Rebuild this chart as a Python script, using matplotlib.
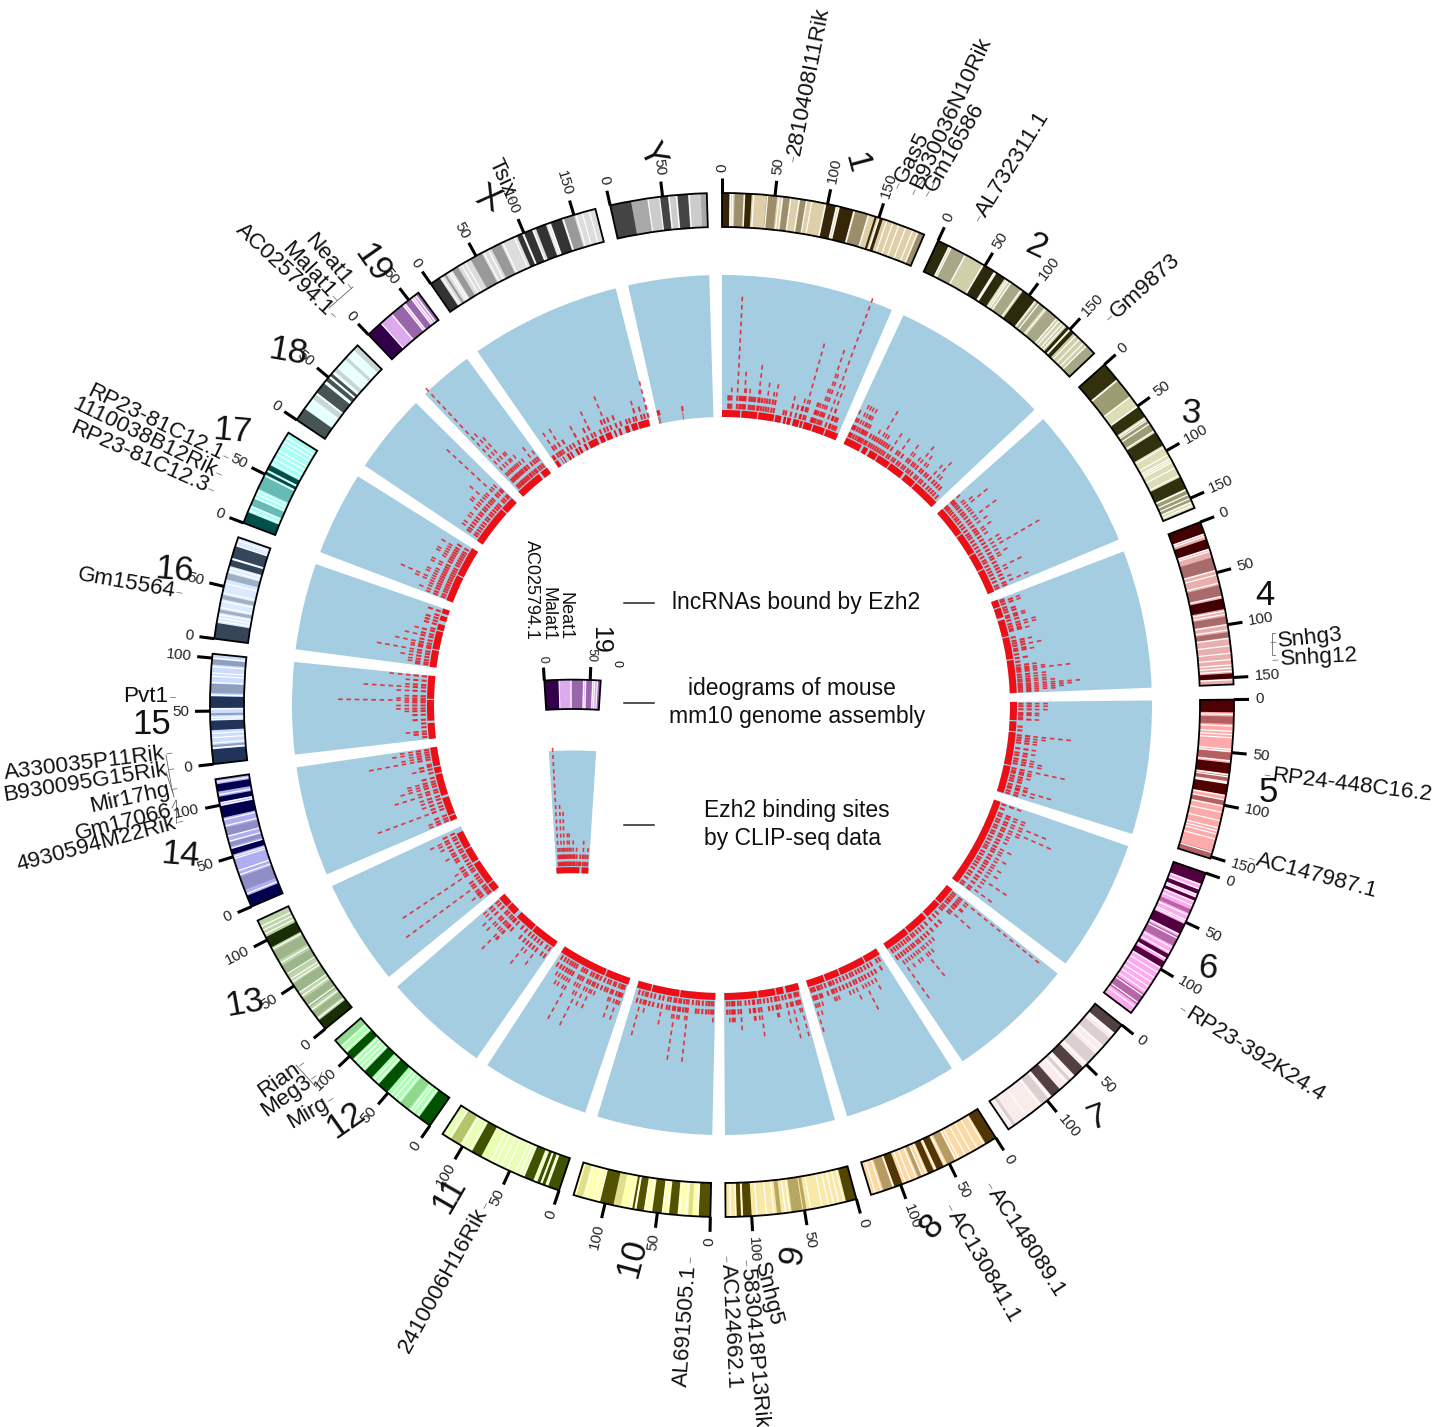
import numpy as np
import matplotlib
matplotlib.use('Agg')
import matplotlib.pyplot as plt

plt.rcParams['font.family'] = ['Liberation Sans', 'DejaVu Sans']

chrom_names = ['1','2','3','4','5','6','7','8','9','10','11','12','13','14','15','16','17','18','19','X','Y']
chrom_len = [195.47,182.11,160.04,156.51,151.83,149.74,145.44,129.40,124.60,130.69,122.08,120.13,120.42,124.90,104.04,98.21,94.99,90.70,61.43,171.03,91.74]

# dark / mid / light colour of each ideogram
chrom_dark = ['#35260a','#2b2a0c','#33300e','#420003','#4f0000','#52003f','#534040','#523504','#524500','#525200','#3e5200','#005200','#1a2e05','#00004f','#20345a','#36465a','#004f4a','#465454','#33004a','#333333','#444444']
chrom_mid = ['#9c8d6b','#a8a888','#9c9b72','#a96a6a','#b56060','#b864a8','#dccfcf','#b89a63','#b8a763','#dede8c','#b3c46b','#8fd98f','#9db58a','#8f8fc8','#8f9fc0','#a0b0c4','#66bbb5','#c5d8d6','#9966aa','#999999','#a8a8a8']
chrom_light = ['#decfa9','#cfcfa9','#ddddb6','#e9aeae','#ffaaaa','#ffaaf0','#fbecec','#fbd9a4','#f9e9a8','#ffffb0','#e8ffb5','#aaffb0','#bdd3a8','#aeaef0','#ccdcff','#dbeaff','#a6fff5','#e6ffff','#ddaaee','#dddddd','#cccccc']

chr1_dark = [(0,7),(22,28),(99,108),(112,125),(146,148),(151,154)]
chr1_mid = [(12,21),(42,52),(58,64),(74,80),(127,139),(190,195)]
chr1_white = [8,10,21,30,43,54,57,65,73,80,85,98,109,111,126,140,150,158,164,170,177,184,189]
chr2_dark = [(0,11),(49,60),(63,72),(93,107),(146,149),(151,155)]
chr2_mid = [(14,28),(80,90),(110,118),(122,133),(172,182)]
chr2_white = [12,14,29,48,61,62,74,76,79,91,108,112,120,134,137,141,144,150,158,163,168,172]
chr3_dark = [(0,18),(51,62),(80,94),(128,140)]
chr3_mid = [(20,38),(65,78),(142,153)]
chr3_white = [19,39,50,64,66,70,78,96,104,108,110,112,118,126,141,146,150,154,157]
chr4_dark = [(0,11),(17,26),(75,85),(146,151)]
chr4_mid = [(35,47),(62,72),(92,99),(107,112)]
chr4_white = [12,14,27,29,48,52,60,73,87,90,100,105,113,120,127,133,138,141,144,152]
chr5_dark = [(0,12),(60,70),(80,90)]
chr5_mid = [(16,23),(50,57),(72,77),(95,100),(145,151)]
chr5_white = [14,25,30,33,36,47,49,58,71,73,78,79,91,95,101,107,115,122,125,128,133,146]
chr6_dark = [(0,11),(17,21),(25,28),(52,62),(84,88),(92,98)]
chr6_mid = [(37,41),(65,75),(128,140)]
chr6_white = [12,16,22,24,29,33,43,48,50,63,67,77,82,89,99,104,110,115,120,125,130,138,143]
chr7_dark = [(0,10),(54,65),(84,94)]
chr7_mid = [(17,26),(37,48),(70,73),(98,106),(137,140)]
chr7_white = [11,13,27,33,50,67,69,75,96,108,124,141]
chr8_dark = [(0,11),(56,63),(66,72),(98,106)]
chr8_mid = [(44,52),(78,82),(108,117)]
chr8_white = [13,20,27,33,40,43,54,64,74,78,84,90,95,107,119,125]
chr9_dark = [(0,10),(100,108),(110,114)]
chr9_mid = [(48,51),(52,62),(72,76)]
chr9_white = [12,17,22,27,33,44,64,68,79,86,95,109,115,120]
chr10_dark = [(0,11),(31,39),(46,55),(63,70),(72,74),(92,105)]
chr10_mid = [(17,21),(85,92),(122,128)]
chr10_white = [12,23,29,41,45,57,62,71,76,106,112,120]
chr11_dark = [(0,11),(14,17),(19,22),(26,35),(80,90)]
chr11_mid = [(103,113)]
chr11_white = [12,18,24,36,40,44,53,59,65,70,92,101,114]
chr12_dark = [(0,13),(51,62),(71,80),(96,104)]
chr12_mid = [(25,35),(113,120)]
chr12_white = [15,20,23,37,42,46,64,68,82,86,90,94,106,112]
chr13_dark = [(0,10),(92,103)]
chr13_mid = [(14,20),(25,35),(42,52),(62,72),(78,88)]
chr13_white = [12,22,27,38,42,54,57,63,75,90,106,110,114]
chr14_dark = [(0,11),(52,58),(88,99),(103,108),(113,120)]
chr14_mid = [(17,30),(60,64),(70,78)]
chr14_white = [13,32,36,48,50,58,65,70,80,86,100,102,110,122]
chr15_dark = [(0,14),(32,41),(53,64)]
chr15_mid = [(16,18),(46,48),(67,76),(94,99)]
chr15_white = [15,20,25,29,42,44,52,65,77,83,86,92,100]
chr16_dark = [(0,15),(70,76),(78,90)]
chr16_mid = [(25,28),(38,42),(57,63)]
chr16_white = [17,20,23,30,36,44,53,65,68,77,90,95]
chr17_dark = [(0,11),(50,53),(55,60)]
chr17_mid = [(18,25),(35,48)]
chr17_white = [13,17,26,30,33,49,54,62,67,72,76,82,86,90]
chr18_dark = [(0,13),(32,43),(46,50),(52,55)]
chr18_mid = [(25,30),(58,62),(73,76),(85,90)]
chr18_white = [23,31,44,51,56,63,70,78,84]
chr19_dark = [(0,16)]
chr19_mid = [(30,42),(46,52),(58,61)]
chr19_white = [16,29,43,45,53,55,58]
chrX_dark = [(0,10),(93,98),(100,108),(112,122),(127,138)]
chrX_mid = [(15,17),(24,30),(44,56),(66,76),(140,150)]
chrX_white = [12,20,22,34,38,58,63,78,90,99,109,124,126,139,152,158,165]
chrY_dark = [(0,20),(47,55),(64,74)]
chrY_mid = [(20,36),(86,92)]
chrY_white = [36,47,56,63,75]

chr1_base = [(0,30),(32,58),(60,86),(88,98),(102,106),(108,114),(118,128),(130,134),(136,150),(152,172),(174,195)]
chr2_base = [(0,28),(32,40),(44,58),(60,82),(84,110),(114,134),(136,182)]
chr3_base = [(0,50),(52,88),(90,118),(120,160)]
chr4_base = [(0,12),(14,30),(34,62),(64,100),(102,156)]
chr5_base = [(0,30),(32,48),(50,104),(106,151)]
chr6_base = [(0,150)]
chr7_base = [(0,30),(32,60),(63,100),(102,145)]
chr8_base = [(0,26),(28,72),(74,98),(100,129)]
chr9_base = [(0,22),(26,38),(40,68),(70,124)]
chr10_base = [(0,58),(60,105),(107,130)]
chr11_base = [(0,40),(42,122)]
chr12_base = [(0,44),(46,78),(84,100),(102,120)]
chr13_base = [(0,14),(16,55),(58,82),(84,112)]
chr14_base = [(0,8),(10,40),(44,80),(82,92),(94,125)]
chr15_base = [(0,26),(30,64),(66,104)]
chr16_base = [(0,28),(30,60),(62,72),(78,86),(90,98)]
chr17_base = [(0,44),(46,95)]
chr18_base = [(0,65),(67,90)]
chr19_base = [(0,44),(48,61)]
chrX_base = [(1,7),(12,13),(16,18),(24,28),(30,33),(40,44),(46,50),(56,60),(64,80),(84,92),(95,105),(110,113),(118,122),(129,136),(140,150),(152,170)]
chrY_base = [(1,2),(3,4),(41,42)]

chr1_sites = [(10,2),(12,2),(15,3),(24,14),(28,2),(30,2),(33,2),(35,5),(37,3),(43,3),(46,2),(49,2),(52,2),(57,6),(59,3),(63,2),(67,2),(71,4),(75,2),(80,3),(84,4),(100,1),(104,1),(112,3),(120,2),(127,2),(128,3),(133,10),(136,3),(146,1),(148,3),(150,3),(153,3),(157,5),(160,10),(163,7),(171,17),(177,6),(178,3),(182,2),(185,2),(188,1)]
chr2_sites = [(2,4),(4,3),(6,3),(10,5),(14,5),(18,5),(20,4),(23,5),(26,3),(30,1),(33,2),(38,2),(42,3),(46,2),(50,6),(54,3),(58,3),(62,2),(66,2),(72,4),(76,1),(82,2),(86,4),(92,2),(96,1),(102,4),(106,3),(112,2),(116,3),(121,5),(128,4),(132,3),(138,2),(142,2),(148,4),(155,5),(160,3),(165,2),(170,2),(176,1)]
chr3_sites = [(2,3),(5,2),(8,2),(12,3),(16,4),(21,6),(26,3),(30,3),(35,3),(41,6),(46,3),(52,4),(58,2),(62,4),(66,3),(72,3),(78,2),(84,4),(90,4),(96,9),(102,3),(108,4),(112,3),(118,2),(124,2),(129,5),(134,3),(140,2),(146,3),(153,5),(157,2)]
chr4_sites = [(3,1),(6,3),(10,3),(16,1),(20,2),(24,2),(30,3),(33,3),(38,2),(44,4),(48,4),(52,2),(55,3),(66,1),(72,3),(76,2),(80,4),(85,2),(88,3),(94,1),(100,2),(106,1),(112,3),(116,4),(119,7),(122,3),(127,4),(131,4),(135,4),(138,5),(142,8),(145,7),(148,6),(151,5),(154,3)]
chr5_sites = [(3,4),(7,4),(12,4),(18,3),(21,3),(25,1),(28,3),(40,1),(46,1),(54,7),(58,4),(62,3),(66,3),(75,3),(82,3),(86,2),(92,3),(96,4),(100,4),(108,7),(112,3),(115,3),(120,3),(124,2),(128,2),(134,3),(138,3),(140,6),(145,4),(149,2)]
chr6_sites = [(3,3),(10,1),(18,4),(22,4),(28,7),(32,4),(38,8),(42,4),(48,3),(52,3),(58,3),(63,2),(69,4),(74,3),(78,3),(85,4),(90,3),(96,3),(100,4),(105,3),(110,4),(116,3),(123,6),(128,3),(135,3),(143,5),(147,2)]
chr7_sites = [(4,14),(8,3),(12,2),(16,3),(18,3),(22,2),(28,5),(32,2),(36,1),(45,1),(52,2),(60,2),(70,2),(78,3),(84,3),(90,4),(96,4),(100,7),(106,3),(110,4),(115,4),(120,3),(125,4),(130,3),(135,8),(140,2)]
chr8_sites = [(5,1),(10,2),(20,2),(26,4),(32,3),(38,3),(43,6),(48,3),(54,2),(58,4),(64,3),(70,3),(76,2),(82,2),(88,3),(92,3),(95,3),(102,2),(108,1),(112,2),(115,3),(120,4),(123,3),(126,6)]
chr9_sites = [(4,6),(7,3),(10,2),(16,6),(19,2),(25,4),(30,1),(36,2),(40,3),(42,3),(48,2),(54,2),(60,1),(66,5),(70,3),(76,3),(78,3),(84,2),(90,1),(98,4),(102,2),(108,3),(110,3),(112,3),(116,3),(120,2)]
chr10_sites = [(3,3),(6,2),(10,2),(14,2),(20,2),(26,2),(30,2),(36,1),(43,8),(46,3),(50,2),(55,3),(58,3),(63,8),(66,3),(72,2),(76,2),(84,4),(90,2),(98,2),(104,2),(110,3),(113,2),(118,6),(124,2)]
chr11_sites = [(4,3),(7,3),(9,5),(13,3),(19,5),(22,3),(28,2),(32,2),(38,2),(45,3),(50,3),(53,5),(58,3),(62,5),(70,8),(74,4),(78,3),(88,8),(92,4),(96,3),(100,4),(105,4),(110,3),(116,2)]
chr12_sites = [(4,2),(10,2),(20,4),(26,2),(32,3),(38,5),(44,2),(52,2),(60,1),(70,2),(76,4),(78,4),(82,6),(86,3),(92,3),(96,4),(105,4),(112,3),(117,3)]
chr13_sites = [(3,1),(6,2),(10,3),(13,2),(17,2),(24,12),(28,2),(33,2),(38,1),(46,11),(50,2),(55,3),(60,2),(66,1),(72,2),(76,2),(82,3),(86,2),(92,2),(98,3),(104,3),(108,4),(114,2)]
chr14_sites = [(3,3),(7,3),(12,2),(23,9),(28,2),(34,3),(40,3),(45,3),(52,6),(56,3),(62,5),(66,4),(70,4),(76,2),(84,1),(90,3),(95,2),(98,1),(106,8),(110,4),(114,3),(118,5),(122,4)]
chr15_sites = [(4,1),(9,2),(13,3),(20,1),(26,1),(32,2),(40,2),(46,3),(50,4),(55,4),(60,3),(63,11),(66,4),(70,3),(78,4),(84,8),(88,3),(95,3),(102,5)]
chr16_sites = [(3,2),(6,3),(10,3),(15,4),(20,3),(24,7),(30,3),(33,3),(37,5),(42,2),(48,4),(52,2),(58,3),(62,1),(70,2),(75,2),(80,2),(85,1),(92,2)]
chr17_sites = [(3,3),(7,4),(12,3),(16,3),(20,5),(24,7),(28,3),(32,4),(36,4),(40,3),(44,2),(48,4),(52,4),(58,2),(62,3),(66,4),(70,4),(74,3),(78,3),(82,4),(88,2)]
chr18_sites = [(6,2),(10,3),(15,3),(20,2),(25,3),(30,3),(36,2),(40,3),(46,4),(50,4),(55,3),(60,5),(64,3),(68,3),(76,10),(80,3),(85,3),(88,2)]
chr19_sites = [(5,17),(8,3),(11,9),(14,3),(16,8),(19,3),(22,5),(25,5),(28,3),(32,4),(34,2),(38,3),(42,1),(45,2),(50,4),(54,2),(58,3)]
chrX_sites = [(3,1),(5,1),(11,4),(15,2),(18,1),(22,4),(30,2),(36,1),(42,1),(51,3),(60,1),(67,2),(75,4),(80,1),(90,1),(97,2),(102,5),(108,2),(117,2),(125,1),(135,1),(140,1),(147,1),(151,3),(160,2),(165,1),(171,5)]
chrY_sites = [(2,1),(4,1),(42,1)]

all_dark = [chr1_dark,chr2_dark,chr3_dark,chr4_dark,chr5_dark,chr6_dark,chr7_dark,chr8_dark,chr9_dark,chr10_dark,chr11_dark,chr12_dark,chr13_dark,chr14_dark,chr15_dark,chr16_dark,chr17_dark,chr18_dark,chr19_dark,chrX_dark,chrY_dark]
all_mid = [chr1_mid,chr2_mid,chr3_mid,chr4_mid,chr5_mid,chr6_mid,chr7_mid,chr8_mid,chr9_mid,chr10_mid,chr11_mid,chr12_mid,chr13_mid,chr14_mid,chr15_mid,chr16_mid,chr17_mid,chr18_mid,chr19_mid,chrX_mid,chrY_mid]
all_white = [chr1_white,chr2_white,chr3_white,chr4_white,chr5_white,chr6_white,chr7_white,chr8_white,chr9_white,chr10_white,chr11_white,chr12_white,chr13_white,chr14_white,chr15_white,chr16_white,chr17_white,chr18_white,chr19_white,chrX_white,chrY_white]
all_base = [chr1_base,chr2_base,chr3_base,chr4_base,chr5_base,chr6_base,chr7_base,chr8_base,chr9_base,chr10_base,chr11_base,chr12_base,chr13_base,chr14_base,chr15_base,chr16_base,chr17_base,chr18_base,chr19_base,chrX_base,chrY_base]
all_sites = [chr1_sites,chr2_sites,chr3_sites,chr4_sites,chr5_sites,chr6_sites,chr7_sites,chr8_sites,chr9_sites,chr10_sites,chr11_sites,chr12_sites,chr13_sites,chr14_sites,chr15_sites,chr16_sites,chr17_sites,chr18_sites,chr19_sites,chrX_sites,chrY_sites]

gene_names = ['2810408I11Rik','Gas5','B930036N10Rik','Gm16586','AL732311.1','Gm9873','Snhg3','Snhg12','RP24-448C16.2','AC147987.1','RP23-392K24.4','AC148089.1','AC130841.1','Snhg5','5830418P13Rik','AC124662.1','AL691505.1','2410006H16Rik','Mirg','Meg3','Rian','4930594M22Rik','Gm17066','Mir17hg','B930095G15Rik','A330035P11Rik','Pvt1','Gm15564','RP23-81C12.3','1110038B12Rik','RP23-81C12.1','AC025794.1','Malat1','Neat1','Tsix']
# text end nearest the ring, in picture pixels, and text angle
gene_xy = [(794,155),(900,182),(916,188),(930,190),(981,215),(1113,315),(1278,642),(1280,660),(1272,776),(1256,860),(1187,1012),(993,1190),(953,1212),(760,1262),(747,1268),(727,1264),(690,1265),(483,1210),(327,1102),(310,1080),(298,1067),(176,823),(172,811),(170,790),(167,770),(165,754),(168,697),(175,592),(207,488),(215,472),(222,455),(330,312),(332,295),(347,283),(510,195)]
gene_rot = [79,63,65,60,58,42,6,3,-7,-15,-32,-57,-60,-76,-85,-87,86,61,30,35,35,15,14,12,9,7,0,-10,-24,-26,-26,-43,-47,-50,-65]
gene_left = [0,0,0,0,0,0,0,0,0,0,0,0,0,0,0,0,1,1,1,1,1,1,1,1,1,1,1,1,1,1,1,1,1,1,1]

# thin brackets joining crowded labels to their sites
bracket_lines = [[(1275,633),(1272,633),(1272,655),(1275,655)],[(166,755),(172,790),(174,797)],[(166,772),(173,793)],[(172,808),(176,800)],[(176,823),(176,800)],[(296,1065),(316,1087),(322,1072)],[(329,308),(353,287)],[(918,186),(924,180)],[(932,188),(936,178)]]

label_xy = [(856,163),(1036,246),(1191,413),(1265,595),(1268,793),(1208,968),(1097,1118),(932,1226),(793,1255),(632,1258),(449,1195),(346,1120),(245,1003),(180,855),(152,724),(174,570),(232,431),(288,352),(372,263),(488,199),(652,155)]
label_rot = [-75,-25,-5,0,0,-5,20,45,80,75,60,35,10,-5,0,-5,-5,-10,-55,-30,-65]

legend_lines = [603,703,825]
legend_text = [('lncRNAs bound by Ezh2',796,603),('ideograms of mouse',792,689),('mm10 genome assembly',797,717),('Ezh2 binding sites',797,811),('by CLIP-seq data',792,838)]

CX, CY = 722, 705
GAP = 1.7
SCALE = (360-21*GAP)/sum(chrom_len)
R_IN, R_OUT = 478, 512
BLUE = '#a4cde2'
RED = '#e8141c'
W, H = 1439, 1427

chrom_start = []
pos = 0
for l in chrom_len:
    chrom_start.append(pos)
    pos += l*SCALE+GAP

def px(x, y):
    return np.arctan2(x-CX, CY-y), np.hypot(x-CX, y-CY)

def radial_rot(t):
    t = t % 360
    if t < 180:
        return 90-t, 'left'
    return 270-t, 'right'

def draw_chrom(ax, i, shift=0, tick_size=11):
    start = chrom_start[i]
    length = chrom_len[i]
    th = lambda mb: np.radians(start+np.asarray(mb)*SCALE-shift)
    wid = lambda mb: np.radians(np.asarray(mb)*SCALE)

    # blue sector
    ax.bar(th(length/2), 430-288, width=wid(length), bottom=288, color=BLUE, lw=0, zorder=1)

    # CLIP-seq rows, the first two are heavy blocks
    for s, e in all_base[i]:
        ax.bar(th((s+e)/2), 7, width=wid(e-s), bottom=288, color='#ee0f16', lw=0, zorder=2)
    tt, lo, tt2, lo2 = [], [], [], []
    for mb, n in all_sites[i]:
        for k in range(1, n+1):
            if k <= 2:
                tt2.append(th(mb))
                lo2.append(288+8.3*k)
            else:
                tt.append(th(mb))
                lo.append(288+8.3*k)
    if tt2:
        lo2 = np.array(lo2)
        lc = ax.vlines(tt2, lo2, lo2+5.2, colors=RED, lw=1.5, alpha=0.85, zorder=3)
        lc.set_capstyle('butt')
    if tt:
        lo = np.array(lo)
        lc = ax.vlines(tt, lo, lo+4.6, colors=RED, lw=1.2, alpha=0.8, zorder=3)
        lc.set_capstyle('butt')

    # ideogram
    ax.bar(th(length/2), R_OUT-R_IN, width=wid(length), bottom=R_IN, color=chrom_light[i], lw=0, zorder=4)
    for s, e in all_mid[i]:
        ax.bar(th((s+e)/2), R_OUT-R_IN, width=wid(e-s), bottom=R_IN, color=chrom_mid[i], lw=0, zorder=5)
    for s, e in all_dark[i]:
        ax.bar(th((s+e)/2), R_OUT-R_IN, width=wid(e-s), bottom=R_IN, color=chrom_dark[i], lw=0, zorder=5)
    for w in all_white[i]:
        ax.bar(th(w), R_OUT-R_IN, width=wid(1.2), bottom=R_IN, color='white', lw=0, zorder=6)
    ax.bar(th(length/2), R_OUT-R_IN, width=wid(length), bottom=R_IN, facecolor='none', edgecolor='black', lw=1.3, zorder=7)

    # ticks
    for mb in range(0, int(length)+1, 50):
        t = th(mb)
        ax.plot([t, t], [R_OUT, R_OUT+15], color='black', lw=2.2, solid_capstyle='butt', zorder=7)
        orig = start+mb*SCALE
        rot, ha = radial_rot(orig)
        rot -= (-shift) % 360
        ax.text(t, R_OUT+21, str(mb), fontsize=tick_size, rotation=rot, rotation_mode='anchor', ha=ha, va='center', color='#222222')

fig = plt.figure(figsize=(W/100, H/100), dpi=100)
fig.patch.set_facecolor('white')

half = 705
ax = fig.add_axes([(CX-half)/W, (H-CY-half)/H, 2*half/W, 2*half/H], projection='polar')
ax.set_theta_zero_location('N')
ax.set_theta_direction(-1)
ax.set_axis_off()

for i in range(21):
    draw_chrom(ax, i)
ax.set_rlim(0, half)

# chromosome numbers
for name, xy, rot in zip(chrom_names, label_xy, label_rot):
    t, r = px(*xy)
    ax.text(t, r, name, fontsize=25, rotation=rot, rotation_mode='anchor', ha='center', va='center', color='#111111')

# gene labels with their small leaders
for name, xy, rot, left in zip(gene_names, gene_xy, gene_rot, gene_left):
    t, r = px(*xy)
    ax.text(t, r, name, fontsize=16.2, rotation=rot, rotation_mode='anchor', ha='right' if left else 'left', va='center', color='#111111')
    a = np.radians(rot)
    sg = 1 if left else -1
    x1, y1 = xy[0]+sg*2*np.cos(a), xy[1]-sg*2*np.sin(a)
    x2, y2 = xy[0]+sg*7*np.cos(a), xy[1]-sg*7*np.sin(a)
    t1, r1 = px(x1, y1)
    t2, r2 = px(x2, y2)
    ax.plot([t1, t2], [r1, r2], color='#777777', lw=0.6)

for line in bracket_lines:
    pts = [px(x, y) for x, y in line]
    ax.plot([p[0] for p in pts], [p[1] for p in pts], color='#666666', lw=0.6)

# centre legend
for y in legend_lines:
    t1, r1 = px(624, y)
    t2, r2 = px(654, y)
    ax.plot([t1, t2], [r1, r2], color='#222222', lw=1.1)
for s, x, y in legend_text:
    t, r = px(x, y)
    ax.text(t, r, s, fontsize=16.5, ha='center', va='center', color='#111111')

ax.set_rlim(0, half)

# legend miniature is chromosome 19 again, scaled and turned to the top
LCX, LCY, LS = 572.5, 1122, 0.864
half2 = half*LS
ax2 = fig.add_axes([(LCX-half2)/W, (H-LCY-half2)/H, 2*half2/W, 2*half2/H], projection='polar')
ax2.set_theta_zero_location('N')
ax2.set_theta_direction(-1)
ax2.set_axis_off()
draw_chrom(ax2, 18, shift=chrom_start[18]+chrom_len[18]*SCALE/2, tick_size=9)
ax2.set_rlim(0, half)

mini_labels = [('19',600,640,-90,18),('0',616,664,-90,9),('Neat1',565,592,-90,13),('Malat1',548,587,-90,13),('AC025794.1',531,540,-90,13)]
for s, x, y, rot, size in mini_labels:
    t, r = px(x, y)
    ax.text(t, r, s, fontsize=size, rotation=rot, rotation_mode='anchor', ha='left' if size == 13 else 'center', va='center', color='#111111')

fig.savefig('out.png', dpi=100, facecolor='white')
